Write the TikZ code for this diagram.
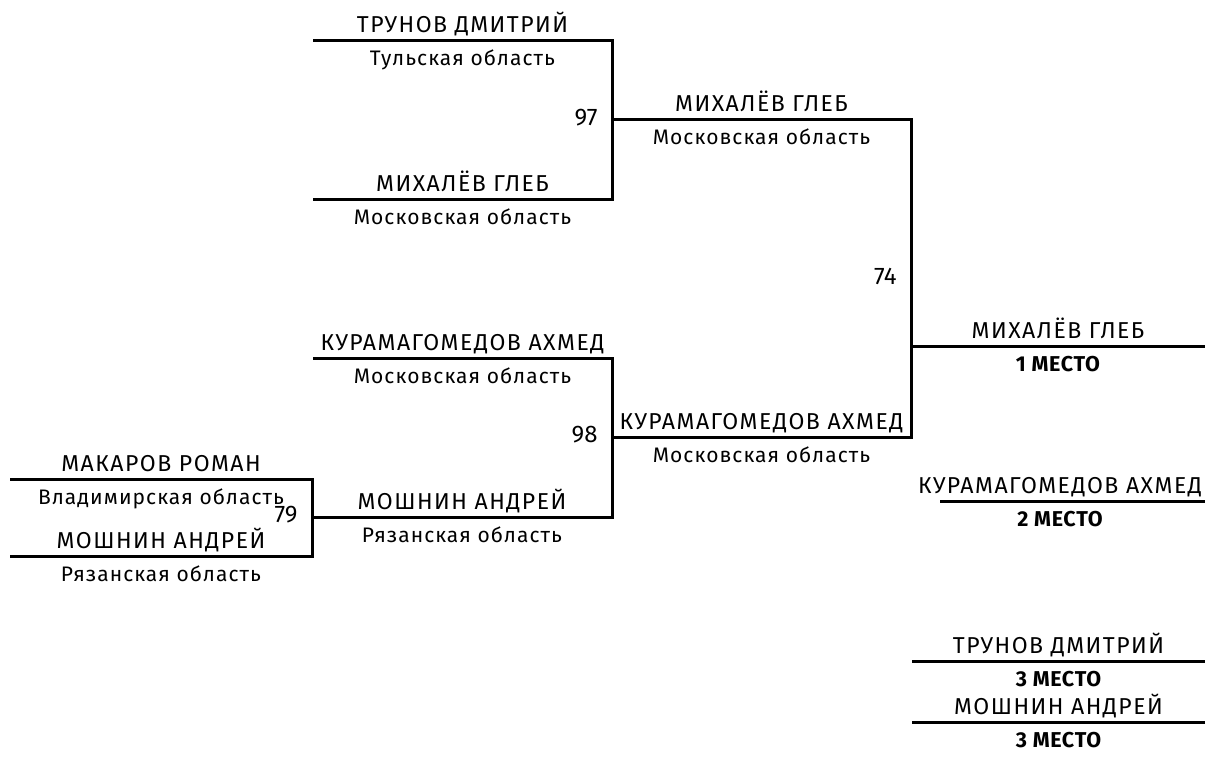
\documentclass[tikz,border=0pt]{standalone}
\usepackage{fontspec}
\setmainfont{Fira Sans}
\usetikzlibrary{positioning}

\begin{document}
\begin{tikzpicture}[x=1pt,y=-1pt,line width=3pt,
	fio/.style={anchor=base,yshift=8pt,inner sep=0pt,font=\fontsize{23}{26}\selectfont\addfontfeature{LetterSpace=6.5}},
	obl/.style={anchor=base,yshift=-25pt,inner sep=0pt,font=\fontsize{21}{24}\selectfont\addfontfeature{LetterSpace=5}},
	mesto/.style={obl,font=\fontsize{21.5}{24}\selectfont\bfseries\addfontfeature{LetterSpace=3}},
	ball/.style={anchor=east,xshift=-13pt,yshift=2pt,inner sep=0pt,font=\fontsize{24}{26}\selectfont}]
			\useasboundingbox (0,0) rectangle (1208,765);
			\coordinate (a1) at (313,41);
			\coordinate (a2) at (612,41);
			\coordinate (b1) at (313,199);
			\coordinate (b2) at (612,199);
			\coordinate (c1) at (313,358);
			\coordinate (c2) at (612,358);
			\coordinate (d1) at (312,517);
			\coordinate (d2) at (612,517);
			\coordinate (e1) at (10,479);
			\coordinate (e2) at (312,479);
			\coordinate (g1) at (10,556);
			\coordinate (g2) at (312,556);
			\coordinate (p1) at (612,120);
			\coordinate (p2) at (911,120);
			\coordinate (q1) at (612,437);
			\coordinate (q2) at (911,437);
			\coordinate (m) at (911,278);
			\coordinate (f1) at (911,346);
			\coordinate (f2) at (1205,346);
			\coordinate (h1) at (940,501);
			\coordinate (h2) at (1205,501);
			\coordinate (h) at (1060,501);
			\coordinate (k1) at (912,661);
			\coordinate (k2) at (1205,661);
			\coordinate (l1) at (912,722);
			\coordinate (l2) at (1205,722);
			\draw (a1) -- (a2) -- (b2) -- (b1);
			\draw (c1) -- (c2) -- (d2) -- (d1);
			\draw (e1) -- (e2) -- (g2) -- (g1);
			\draw (p1) -- (p2) -- (q2) -- (q1);
			\draw (f1) -- (f2);
			\draw (h1) -- (h2);
			\draw (k1) -- (k2);
			\draw (l1) -- (l2);
			\path (a1) -- (a2) node[midway,fio] (fa) {ТРУНОВ ДМИТРИЙ} node[midway,obl] (oa) {Тульская область};
			\path (b1) -- (b2) node[midway,fio] (fb) {МИХАЛЁВ ГЛЕБ} node[midway,obl] (ob) {Московская область};
			\path (c1) -- (c2) node[midway,fio] (fc) {КУРАМАГОМЕДОВ АХМЕД} node[midway,obl] (oc) {Московская область};
			\path (d1) -- (d2) node[midway,fio] (fd) {МОШНИН АНДРЕЙ} node[midway,obl] (od) {Рязанская область};
			\path (e1) -- (e2) node[midway,fio] (fe) {МАКАРОВ РОМАН} node[midway,obl] (oe) {Владимирская область};
			\path (g1) -- (g2) node[midway,fio] (fg) {МОШНИН АНДРЕЙ} node[midway,obl] (og) {Рязанская область};
			\path (p1) -- (p2) node[midway,fio] (fp) {МИХАЛЁВ ГЛЕБ} node[midway,obl] (op) {Московская область};
			\path (q1) -- (q2) node[midway,fio] (fq) {КУРАМАГОМЕДОВ АХМЕД} node[midway,obl] (oq) {Московская область};
			\path (f1) -- (f2) node[midway,fio] (ff) {МИХАЛЁВ ГЛЕБ} node[midway,mesto] (mf) {1 МЕСТО};
			\node[fio] (fh) at (h) {КУРАМАГОМЕДОВ АХМЕД};
			\node[mesto] (mh) at (h) {2 МЕСТО};
			\path (k1) -- (k2) node[midway,fio] (fk) {ТРУНОВ ДМИТРИЙ} node[midway,mesto] (mk) {3 МЕСТО};
			\path (l1) -- (l2) node[midway,fio] (fl) {МОШНИН АНДРЕЙ} node[midway,mesto] (ml) {3 МЕСТО};
			\node[ball] (s97) at (p1) {97};
			\node[ball] (s98) at (q1) {98};
			\node[ball] (s79) at (d1) {79};
			\node[ball] (s74) at (m) {74};
		\end{tikzpicture}
\end{document}
